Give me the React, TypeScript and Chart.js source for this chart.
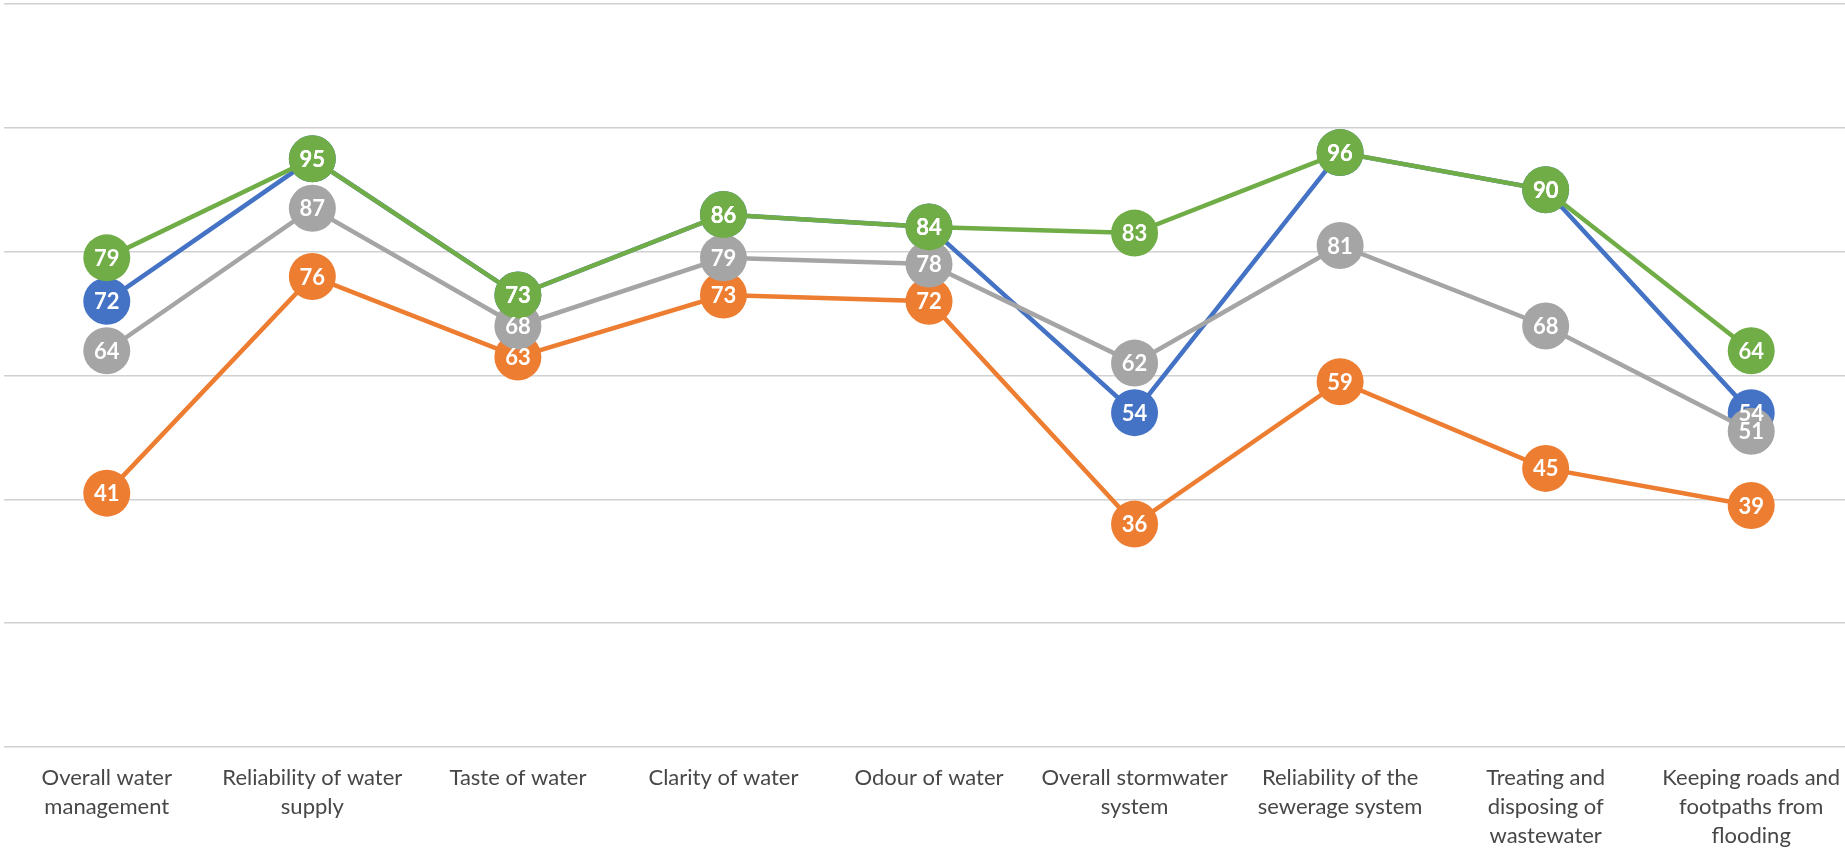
import React, { useEffect, useRef } from "react";
import { Chart, registerables, LineController } from "chart.js";

Chart.register(...registerables);

class FlatLineController extends LineController {
  static id = "flatLine";
  static defaults = LineController.defaults;
  static overrides = LineController.overrides;
  getMaxOverflow() {
    return 0;
  }
}
Chart.register(FlatLineController);

const categories: (string | string[])[] = [
  ["Overall water", "management"],
  ["Reliability of water", "supply"],
  "Taste of water",
  "Clarity of water",
  "Odour of water",
  ["Overall stormwater", "system"],
  ["Reliability of the", "sewerage system"],
  ["Treating and", "disposing of", "wastewater"],
  ["Keeping roads and", "footpaths from", "flooding"],
];

const seriesBlue = [72, 95, 73, 86, 84, 54, 96, 90, 54];
const seriesOrange = [41, 76, 63, 73, 72, 36, 59, 45, 39];
const seriesGrey = [64, 87, 68, 79, 78, 62, 81, 68, 51];
const seriesGreen = [79, 95, 73, 86, 84, 83, 96, 90, 64];

const yMin = 0;
const yMax = 120;
const yStep = 20;

const labelPlugin = {
  id: "circleLabels",
  afterDatasetsDraw(chart: any) {
    const ctx = chart.ctx;
    ctx.save();
    ctx.font = "bold 22px Lato";
    ctx.fillStyle = "#ffffff";
    ctx.textAlign = "center";
    ctx.textBaseline = "middle";
    chart.data.datasets.forEach((ds: any, i: number) => {
      const meta = chart.getDatasetMeta(i);
      meta.data.forEach((pt: any, j: number) => {
        ctx.fillText(String(ds.data[j]), pt.x, pt.y + 1);
      });
    });
    ctx.restore();
  },
};

function ds(label: string, data: number[], color: string, order: number) {
  return {
    label,
    data,
    order,
    borderColor: color,
    backgroundColor: color,
    pointBackgroundColor: color,
    pointBorderColor: color,
    pointBorderWidth: 0,
    pointRadius: 23.5,
    pointHoverRadius: 23.5,
    borderWidth: 4.5,
    tension: 0,
    clip: false as any,
  };
}

export default function App() {
  const ref = useRef<HTMLCanvasElement | null>(null);
  useEffect(() => {
    if (!ref.current) return;
    const chart = new Chart(ref.current, {
      type: "flatLine" as any,
      data: {
        labels: categories,
        datasets: [
          ds("Series 1", seriesBlue, "#4472C4", 4),
          ds("Series 2", seriesOrange, "#ED7D31", 3),
          ds("Series 3", seriesGrey, "#A5A5A5", 2),
          ds("Series 4", seriesGreen, "#70AD47", 1),
        ],
      },
      options: {
        animation: false,
        responsive: false,
        events: [],
        layout: { padding: { left: 4, top: 4, right: 4, bottom: 0 } },
        plugins: {
          legend: { display: false },
          tooltip: { enabled: false },
          title: { display: false },
        },
        scales: {
          x: {
            type: "category",
            offset: true,
            grid: { display: false, drawTicks: false },
            border: { display: false },
            ticks: {
              autoSkip: false,
              maxRotation: 0,
              minRotation: 0,
              padding: 17,
              color: "#474747",
              font: { family: "Lato", size: 22, lineHeight: 1.3 },
            },
            afterFit: (scale: any) => {
              scale.height = 104;
            },
          },
          y: {
            type: "linear",
            min: yMin,
            max: yMax,
            ticks: { display: false, stepSize: yStep },
            grid: { color: "#d0d0d0", lineWidth: 1.5, drawTicks: false },
            border: { display: false },
            afterFit: (scale: any) => {
              scale.width = 0;
            },
          },
        },
      } as any,
      plugins: [labelPlugin],
    });
    return () => chart.destroy();
  }, []);
  return (
    <div
      style={{
        position: "fixed",
        left: 0,
        top: 0,
        width: 1845,
        height: 851,
        overflow: "hidden",
        background: "#ffffff",
      }}
    >
      <canvas ref={ref} width={1858} height={851} style={{ display: "block" }} />
    </div>
  );
}
